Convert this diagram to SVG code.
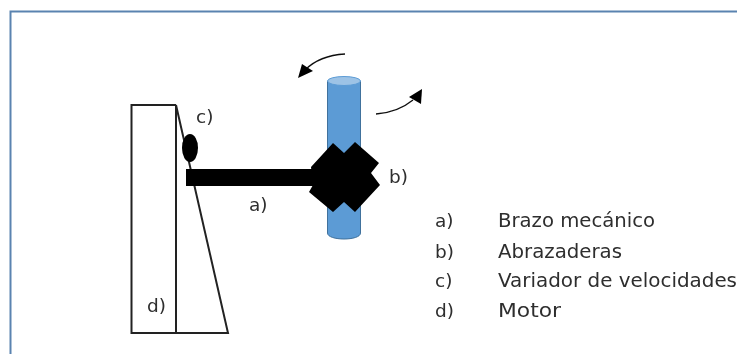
<svg xmlns="http://www.w3.org/2000/svg" width="737" height="354" viewBox="0 0 737 354">
<style>
.t{font-family:"DejaVu Sans","Liberation Sans",sans-serif;font-size:18.500px;fill:#2e2e2e}
.n{font-size:20px}
.o{fill:none;stroke:#222;stroke-width:2}
.k{fill:#000}
.a{fill:none;stroke:#111;stroke-width:1.3}
</style>
<defs><filter id="b" x="-5%" y="-5%" width="110%" height="110%"><feGaussianBlur stdDeviation="0.45"/></filter></defs>
<rect width="737" height="354" fill="#fff"/>
<g filter="url(#b)">
<path id="frame" d="M10.500 360V11.500H740" fill="none" stroke="#5a83b0" stroke-width="2"/>
<g id="motor">
<path class="o" d="M176 105H131.500V333H228L176 105V333"/>
<text class="t" x="147" y="312">d)</text>
</g>
<g id="column">
<path d="M327.500 81V233C327.500 241 360.500 241 360.500 233V81Z" fill="#5b9bd5" stroke="#41719c" stroke-width="1"/>
<ellipse cx="344" cy="81" rx="16.500" ry="4.500" fill="#9dc3e6" stroke="#5b9bd5"/>
</g>
<g id="arm">
<rect class="k" x="186" y="169" width="130" height="17"/>
<text class="t" x="249" y="211">a)</text>
</g>
<g id="variator">
<ellipse class="k" cx="190" cy="148" rx="8" ry="14"/>
<text class="t" x="196" y="123">c)</text>
</g>
<g id="clamps">
<path class="k" d="M333 143L344 153L355 142L379 163L371 173L380 185L355 212L344 202L333 212L309 192L313 185L311 167Z"/>
<text class="t" x="389" y="183">b)</text>
</g>
<g id="connectors">
<path class="a" d="M345 54C328 55 315 60 305 70"/>
<path class="k" d="M298 78L302 64L313 71Z"/>
<path class="a" d="M376 114C390 113 402 109 413 100"/>
<path class="k" d="M422 89L421 104L409 97Z"/>
</g>
<g id="legend">
<text class="t" x="435" y="227">a)</text><text class="t n" x="498" y="227" textLength="157" lengthAdjust="spacingAndGlyphs">Brazo mecánico</text>
<text class="t" x="435" y="258">b)</text><text class="t n" x="498" y="258" textLength="124" lengthAdjust="spacingAndGlyphs">Abrazaderas</text>
<text class="t" x="435" y="287">c)</text><text class="t n" x="498" y="287" textLength="239" lengthAdjust="spacingAndGlyphs">Variador de velocidades</text>
<text class="t" x="435" y="317">d)</text><text class="t n" x="498" y="317" textLength="63" lengthAdjust="spacingAndGlyphs">Motor</text>
</g>
</g>
</svg>
